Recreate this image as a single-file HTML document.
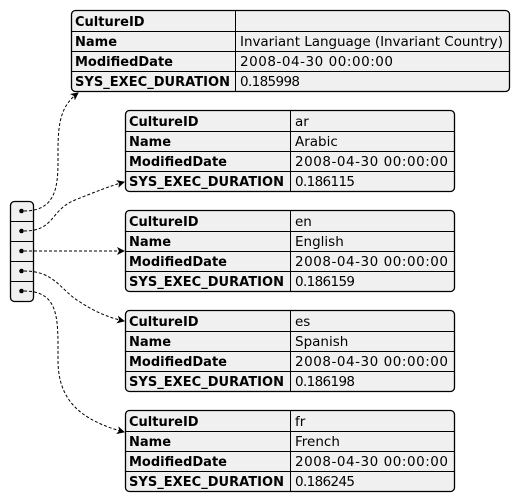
<!DOCTYPE html>
<html><head><meta charset="utf-8"><style>
html,body{margin:0;padding:0;background:#fff;}
svg{display:block;}
text{font-family:"DejaVu Sans","Liberation Sans",sans-serif;font-size:13.5px;fill:#000;}
.b{font-weight:bold;font-size:13px;}
</style></head><body>
<svg width="520" height="502" viewBox="0 0 520 502" xmlns="http://www.w3.org/2000/svg">
<defs>
<marker id="ar" markerWidth="8" markerHeight="8" refX="7" refY="4" orient="auto" markerUnits="userSpaceOnUse">
<path d="M0,0 L8,4 L0,8 L2,4 z" fill="#000"/>
</marker>
</defs>
<g fill="#f0f0f0" stroke="#000" stroke-width="1.3">
<rect x="71.5" y="10.5" width="438" height="81" rx="4"/>
<rect x="125.5" y="110.5" width="329" height="81" rx="4"/>
<rect x="125.5" y="210.5" width="329" height="81" rx="4"/>
<rect x="125.5" y="310.5" width="329" height="81" rx="4"/>
<rect x="125.5" y="410.5" width="329" height="81" rx="4"/>
<rect x="10.5" y="201.5" width="23" height="100" rx="4"/>
</g>
<g stroke="#000" stroke-width="1">
<path d="M71.5 31.5H509.5M71.5 51.5H509.5M71.5 71.5H509.5M235.5 10.5V91.5"/>
<path d="M125.5 131.5H454.5M125.5 151.5H454.5M125.5 171.5H454.5M290.5 110.5V191.5"/>
<path d="M125.5 231.5H454.5M125.5 251.5H454.5M125.5 271.5H454.5M290.5 210.5V291.5"/>
<path d="M125.5 331.5H454.5M125.5 351.5H454.5M125.5 371.5H454.5M290.5 310.5V391.5"/>
<path d="M125.5 431.5H454.5M125.5 451.5H454.5M125.5 471.5H454.5M290.5 410.5V491.5"/>
<path d="M10.5 221.5H33.5M10.5 241.5H33.5M10.5 261.5H33.5M10.5 281.5H33.5"/>
</g>
<g fill="#000">
<circle cx="21.5" cy="211" r="2.3"/><circle cx="21.5" cy="231" r="2.3"/><circle cx="21.5" cy="251" r="2.3"/><circle cx="21.5" cy="271" r="2.3"/><circle cx="21.5" cy="291" r="2.3"/>
</g>
<g fill="none" stroke="#000" stroke-width="1" stroke-dasharray="3,2">
<path d="M24 211 C60 211 58 180 58 150 C58 120 62 105 78 93" marker-end="url(#ar)"/>
<path d="M24 231 C55 231 50 210 75 200 C95 192 110 186 124 182" marker-end="url(#ar)"/>
<path d="M24 251 L124 251" marker-end="url(#ar)"/>
<path d="M24 271 C55 271 60 290 80 302 C95 312 110 318 124 321" marker-end="url(#ar)"/>
<path d="M24 291 C60 291 58 320 58 360 C58 400 80 420 124 432" marker-end="url(#ar)"/>
</g>
<g>
<text class="b" x="75" y="26">CultureID</text>
<text class="b" x="75" y="46">Name</text>
<text class="b" x="75" y="66">ModifiedDate</text>
<text class="b" x="75" y="86" textLength="155">SYS_EXEC_DURATION</text>
<text x="240" y="46" textLength="263">Invariant Language (Invariant Country)</text>
<text x="240" y="66" textLength="153">2008-04-30 00:00:00</text>
<text x="240" y="86" textLength="60">0.185998</text>

<text class="b" x="129" y="126">CultureID</text>
<text class="b" x="129" y="146">Name</text>
<text class="b" x="129" y="166">ModifiedDate</text>
<text class="b" x="129" y="186" textLength="155">SYS_EXEC_DURATION</text>
<text x="295" y="126">ar</text>
<text x="295" y="146">Arabic</text>
<text x="295" y="166" textLength="153">2008-04-30 00:00:00</text>
<text x="295" y="186" textLength="60">0.186115</text>

<text class="b" x="129" y="226">CultureID</text>
<text class="b" x="129" y="246">Name</text>
<text class="b" x="129" y="266">ModifiedDate</text>
<text class="b" x="129" y="286" textLength="155">SYS_EXEC_DURATION</text>
<text x="295" y="226">en</text>
<text x="295" y="246">English</text>
<text x="295" y="266" textLength="153">2008-04-30 00:00:00</text>
<text x="295" y="286" textLength="60">0.186159</text>

<text class="b" x="129" y="326">CultureID</text>
<text class="b" x="129" y="346">Name</text>
<text class="b" x="129" y="366">ModifiedDate</text>
<text class="b" x="129" y="386" textLength="155">SYS_EXEC_DURATION</text>
<text x="295" y="326">es</text>
<text x="295" y="346">Spanish</text>
<text x="295" y="366" textLength="153">2008-04-30 00:00:00</text>
<text x="295" y="386" textLength="60">0.186198</text>

<text class="b" x="129" y="426">CultureID</text>
<text class="b" x="129" y="446">Name</text>
<text class="b" x="129" y="466">ModifiedDate</text>
<text class="b" x="129" y="486" textLength="155">SYS_EXEC_DURATION</text>
<text x="295" y="426">fr</text>
<text x="295" y="446">French</text>
<text x="295" y="466" textLength="153">2008-04-30 00:00:00</text>
<text x="295" y="486" textLength="60">0.186245</text>
</g>
</svg>
</body></html>
